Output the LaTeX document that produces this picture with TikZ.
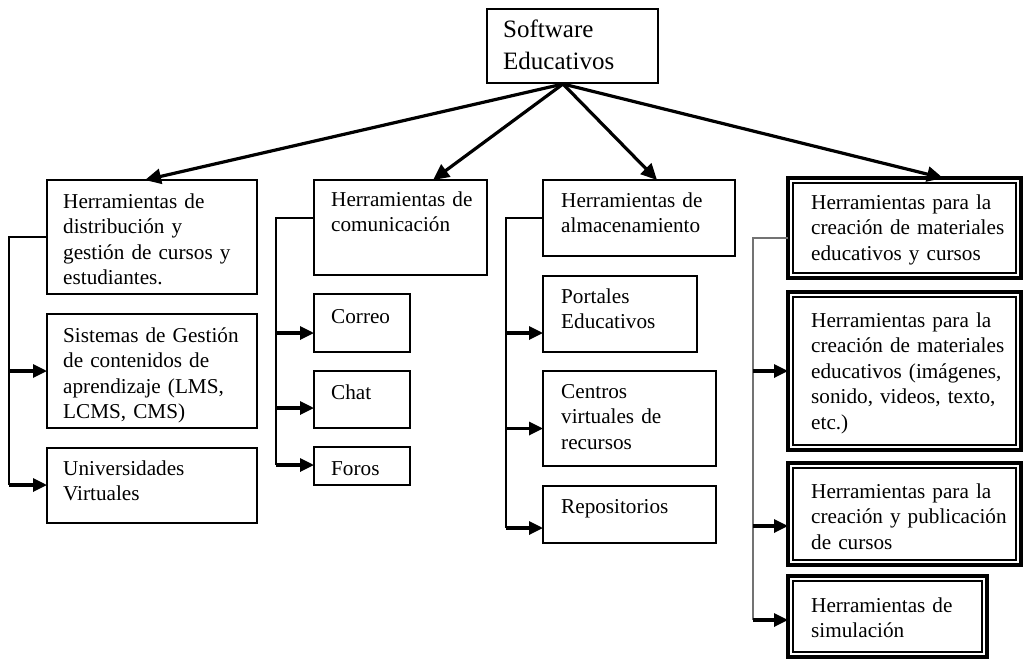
\documentclass[tikz,border=0pt]{standalone}
\usepackage{fontspec}
\setmainfont{Liberation Serif}
\usetikzlibrary{arrows.meta,calc}
\tikzset{
  box/.style={draw, line width=1.5pt, outer sep=0pt, inner sep=0pt},
  dbox/.style={draw, line width=3.2pt, outer sep=0pt, inner sep=0pt},
  innerline/.style={line width=1.8pt},
  txt/.style={inner sep=0pt, text width=300pt, align=left, font=\fontsize{21.2}{25.6}\selectfont},
  bigtxt/.style={inner sep=0pt, text width=300pt, align=left, font=\fontsize{25}{32}\selectfont},
  mainarrow/.style={line width=3.2pt, -{Triangle[length=16pt,width=15pt]}},
  br/.style={line width=3.2pt, -{Triangle[length=14pt,width=13pt]}},
  trunk/.style={line width=1.4pt},
  graytrunk/.style={line width=1.4pt, draw=black!55},
}
\newcommand{\bxx}[9]{%
  \node[#1, minimum width={#5-#3}, minimum height={#6-#4}, anchor=north west] (#2) at (#3,#4) {};
  \node[#7, anchor=base west] (#2-t) at ($(#2.north west)+(#8)$) {#9};
}
\begin{document}
\begin{tikzpicture}[x=1pt,y=-1pt]
\useasboundingbox (0,0) rectangle (1024,658);
% top
\bxx{box}{top}{487}{9}{658}{83}{bigtxt}{16,29}{Software\\Educativos}
% column 1
\bxx{box}{c1a}{47}{180}{257}{294}{txt}{16,28}{Herramientas de\\distribución y\\gestión de cursos y\\estudiantes.}
\bxx{box}{c1b}{47}{314}{257}{428}{txt}{16,28}{Sistemas de Gestión\\de contenidos de\\aprendizaje (LMS,\\LCMS, CMS)}
\bxx{box}{c1c}{47}{448}{257}{523}{txt}{16,27}{Universidades\\Virtuales}
% column 2
\bxx{box}{c2a}{314}{180}{487}{275}{txt}{17,26}{Herramientas de\\comunicación}
\bxx{box}{c2b}{314}{294}{410}{352}{txt}{17,29}{Correo}
\bxx{box}{c2c}{314}{371}{410}{428}{txt}{17,28}{Chat}
\bxx{box}{c2d}{314}{447}{410}{485}{txt}{17,28}{Foros}
% column 3
\bxx{box}{c3a}{543}{180}{735}{256}{txt}{18,27}{Herramientas de\\almacenamiento}
\bxx{box}{c3b}{543}{276}{697}{352}{txt}{18,27}{Portales\\Educativos}
\bxx{box}{c3c}{543}{371}{716}{466}{txt}{18,27}{Centros\\virtuales de\\recursos}
\bxx{box}{c3d}{543}{486}{716}{543}{txt}{18,27}{Repositorios}
% column 4
\bxx{dbox}{c4a}{788}{178}{1021}{278}{txt}{23,31}{Herramientas para la\\creación de materiales\\educativos y cursos}
\bxx{dbox}{c4b}{788}{292}{1021}{450}{txt}{23,35}{Herramientas para la\\creación de materiales\\educativos (imágenes,\\sonido, videos, texto,\\etc.)}
\bxx{dbox}{c4c}{788}{463}{1021}{565}{txt}{23,35}{Herramientas para la\\creación y publicación\\de cursos}
\bxx{dbox}{c4d}{788}{576}{987}{657}{txt}{23,36}{Herramientas de\\simulación}
\foreach \n in {c4a,c4b,c4c,c4d}{
  \draw[innerline] ([shift={(5,5)}]\n.north west) rectangle ([shift={(-5,-5)}]\n.south east);
}
% main arrows
\coordinate (apex) at (563,84);
\draw[mainarrow] (apex) -- ($(c1a.north west)+(98,0)$);
\draw[mainarrow] (apex) -- ($(c2a.north west)+(119,0)$);
\draw[mainarrow] (apex) -- ($(c3a.north west)+(114,0)$);
\draw[mainarrow] (apex) -- ($(c4a.north west)+(155,0)$);
% column 1 connectors
\coordinate (t1a) at (9,237);
\coordinate (t1b) at (9,485);
\draw[trunk] (c1a.west) -- (t1a) -- (t1b);
\draw[br] (t1a |- c1b.west) -- (c1b.west);
\draw[br] (t1b) -- (c1c.west |- t1b);
% column 2 connectors
\coordinate (t2a) at (276,218);
\coordinate (t2b) at (276,465);
\draw[trunk] (c2a.west |- t2a) -- (t2a) -- (t2b);
\draw[br] ($(c2b.west)+(-38,10)$) -- ($(c2b.west)+(0,10)$);
\draw[br] ($(c2c.west)+(-38,8.5)$) -- ($(c2c.west)+(0,8.5)$);
\draw[br] (t2b) -- (c2d.west |- t2b);
% column 3 connectors
\coordinate (t3a) at (506,218);
\coordinate (t3b) at (506,528);
\draw[trunk] (c3a.west) -- (t3a) -- (t3b);
\draw[br] ($(c3b.west)+(-37,19)$) -- ($(c3b.west)+(0,19)$);
\draw[br] ($(c3c.west)+(-37,10)$) -- ($(c3c.west)+(0,10)$);
\draw[br] (t3b) -- (c3d.west |- t3b);
% column 4 connectors
\coordinate (t4a) at (753,238);
\coordinate (t4b) at (753,620);
\draw[graytrunk] (c4a.west |- t4a) -- (t4a) -- (t4b);
\draw[br] (t4a |- c4b.west) -- (c4b.west);
\draw[br] ($(c4c.west)+(-35,12)$) -- ($(c4c.west)+(0,12)$);
\draw[br] (t4b) -- (c4d.west |- t4b);
\end{tikzpicture}
\end{document}
